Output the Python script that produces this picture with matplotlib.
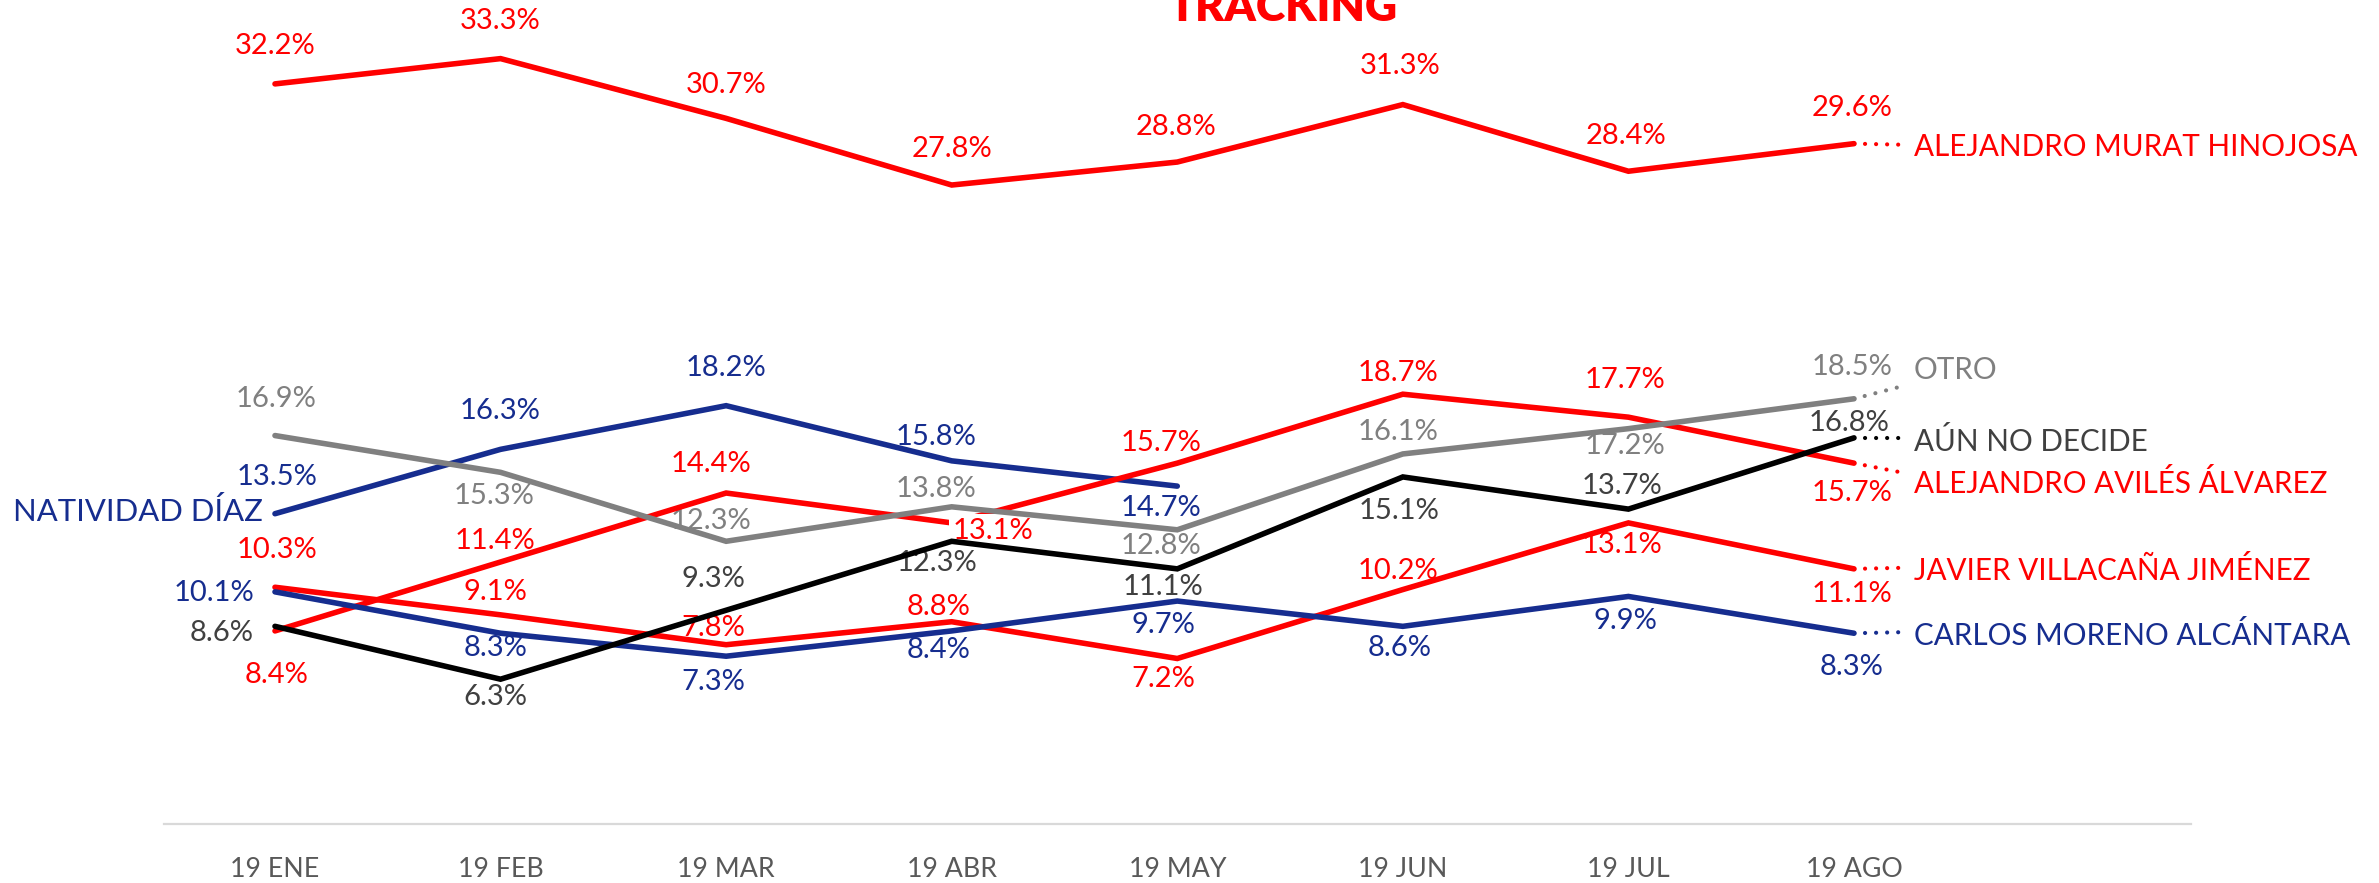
"""
Tracking chart: monthly voting intention by candidate (Jan-Aug 2019).

Lines per candidate, value labels on every point and the candidate name
at the right end of each line, joined by a short dotted leader.
"""

import matplotlib

matplotlib.use("Agg")
import matplotlib.pyplot as plt


MONTHS = ["19 ENE", "19 FEB", "19 MAR", "19 ABR", "19 MAY", "19 JUN", "19 JUL", "19 AGO"]

MURAT = [32.2, 33.3, 30.7, 27.8, 28.8, 31.3, 28.4, 29.6]
NATIVIDAD = [13.5, 16.3, 18.2, 15.8, 14.7]
OTRO = [16.9, 15.3, 12.3, 13.8, 12.8, 16.1, 17.2, 18.5]
AUN_NO_DECIDE = [8.6, 6.3, 9.3, 12.3, 11.1, 15.1, 13.7, 16.8]
AVILES = [8.4, 11.4, 14.4, 13.1, 15.7, 18.7, 17.7, 15.7]
VILLACANA = [10.3, 9.1, 7.8, 8.8, 7.2, 10.2, 13.1, 11.1]
MORENO = [10.1, 8.3, 7.3, 8.4, 9.7, 8.6, 9.9, 8.3]

RED = "#ff0000"
BLUE = "#162d8f"
GRAY = "#808080"
BLACK = "#000000"
DARK_TEXT = "#404040"
TICK_TEXT = "#595959"

FONT = "Lato"
W, H = 2379, 883
VALUE_SIZE = 21
NAME_SIZE = 21.3

# label placement, screen pixels (dx, dy with dy pointing down), optional ha
OFFSETS = {
    "murat": [(0, -38), (0, -38), (0, -33), (0, -36), (-1, -35), (-3, -39), (-2, -35), (-2, -36)],
    "natividad": [(2, -37), (0, -38), (0, -38), (-16, -24), (-16, 22)],
    "otro": [(1, -37), (-6, 24), (-15, -20), (-16, -18), (-16, 16), (-5, -22), (-3, 17), (-2, -32)],
    "aun": [(-21, 7, "right"), (-5, 18), (-13, -31), (-15, 22), (-14, 18), (-4, 34), (-6, -23), (-5, -15)],
    "aviles": [(2, 44), (-6, -21), (-15, -29), (41, 8), (-16, -20), (-5, -21), (-3, -37), (-2, 30)],
    "villacana": [(2, -37), (-5, -23), (-13, -17), (-13, -15), (-14, 20), (-5, -19), (-6, 22), (-2, 25)],
    "moreno": [(-21, 1, "right"), (-5, 15), (-13, 26), (-13, 19), (-14, 24), (-3, 22), (-3, 25), (-2, 34)],
}


def pct(value):
    """Format a value as a percent label."""
    return f"{value:.1f}%"


def draw_series(ax, values, color, text_color, offsets, zorder=3):
    """Draw one candidate line with its value labels."""
    xs = list(range(len(values)))
    ax.plot(xs, values, color=color, lw=4, solid_capstyle="round",
            solid_joinstyle="miter", zorder=zorder, clip_on=False)
    labels = []
    for x, v, off in zip(xs, values, offsets):
        dx, dy = off[0], off[1]
        ha = off[2] if len(off) > 2 else "center"
        labels.append(ax.annotate(pct(v), (x, v), xytext=(dx, -dy), textcoords="offset pixels",
                                  ha=ha, va="center", fontsize=VALUE_SIZE, color=text_color,
                                  family=FONT, zorder=2, annotation_clip=False))
    return labels


def end_label(ax, values, color, text_color, name, end_dy, text_dy):
    """Dotted leader from the last point to the candidate name."""
    x, v = len(values) - 1, values[-1]
    px, py = ax.transData.transform((x, v))
    ex, ey = ax.transData.inverted().transform((px + 46, py - end_dy))
    ax.plot([x, ex], [v, ey], color=color, lw=3, linestyle=(0, (0.01, 2.64)),
            dash_capstyle="round", zorder=3, clip_on=False)
    ax.annotate(name, (x, v), xytext=(60, -text_dy), textcoords="offset pixels",
                ha="left", va="center", fontsize=NAME_SIZE, color=text_color,
                family=FONT, annotation_clip=False)


def main():
    fig = plt.figure(figsize=(W / 100, H / 100), dpi=100)
    ax = fig.add_axes([164 / W, (H - 824) / H, (2191 - 164) / W, 824 / H])
    ax.set_xlim(-0.492, 8.494)
    ax.set_ylim(0, 35.85)

    for side in ["top", "right", "left"]:
        ax.spines[side].set_visible(False)
    ax.spines["bottom"].set_color("#d9d9d9")
    ax.spines["bottom"].set_linewidth(1.6)
    ax.set_yticks([])
    ax.set_xticks(range(len(MONTHS)))
    ax.set_xticklabels(MONTHS, fontsize=19.3, color=TICK_TEXT, family=FONT)
    ax.tick_params(axis="x", length=0, pad=24)

    draw_series(ax, MURAT, RED, RED, OFFSETS["murat"])
    draw_series(ax, NATIVIDAD, BLUE, BLUE, OFFSETS["natividad"])
    draw_series(ax, OTRO, GRAY, GRAY, OFFSETS["otro"], zorder=6)
    draw_series(ax, AUN_NO_DECIDE, BLACK, DARK_TEXT, OFFSETS["aun"], zorder=6)
    aviles_labels = draw_series(ax, AVILES, RED, RED, OFFSETS["aviles"])
    draw_series(ax, VILLACANA, RED, RED, OFFSETS["villacana"])
    draw_series(ax, MORENO, BLUE, BLUE, OFFSETS["moreno"])

    # the April label on the Aviles line sits on a white patch over its line
    aviles_labels[3].set(bbox=dict(boxstyle="square,pad=0.12", fc="white", ec="none"), zorder=5)

    # left-hand name for the series that stops in May
    ax.annotate("NATIVIDAD DÍAZ", (0, NATIVIDAD[0]), xytext=(-12, 2),
                textcoords="offset pixels", ha="right", va="center",
                fontsize=22.3, color=BLUE, family=FONT, annotation_clip=False)

    end_label(ax, MURAT, RED, RED, "ALEJANDRO MURAT HINOJOSA", 1, 3)
    end_label(ax, OTRO, GRAY, GRAY, "OTRO", -12, -29)
    end_label(ax, AUN_NO_DECIDE, BLACK, DARK_TEXT, "AÚN NO DECIDE", 0, 4)
    end_label(ax, AVILES, RED, RED, "ALEJANDRO AVILÉS ÁLVAREZ", 9, 20)
    end_label(ax, VILLACANA, RED, RED, "JAVIER VILLACAÑA JIMÉNEZ", -1, 2)
    end_label(ax, MORENO, BLUE, BLUE, "CARLOS MORENO ALCÁNTARA", -1, 2)

    fig.text(1283 / W, 1 - 21 / H, "TRACKING", ha="center", va="baseline",
             fontsize=32, fontweight="heavy", color=RED, family=FONT)

    fig.savefig("out.png", dpi=100, facecolor="white")


if __name__ == "__main__":
    main()
